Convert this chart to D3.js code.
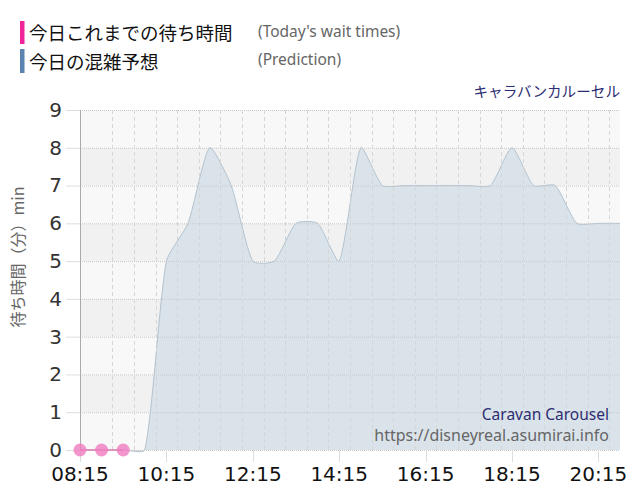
<!DOCTYPE html>
<html>
<head>
<meta charset="utf-8">
<script src="https://cdn.jsdelivr.net/npm/d3@7"></script>
<style>
  body { margin: 0; background: #fff; }
  svg { display: block; }
</style>
</head>
<body>
<svg id="chart" width="640" height="500"></svg>
<script>
// ── Data ──
const predTimes  = ["08:15","08:45","09:15","09:45","10:15","10:45","11:15","11:45","12:15","12:45",
                    "13:15","13:45","14:15","14:45","15:15","15:45","16:15","16:45","17:15","17:45",
                    "18:15","18:45","19:15","19:45","20:15","20:45"];
const predValues = [0,0,0,0,5,6,8,7,5,5, 6,6,5,8,7,7,7,7,7,7, 8,7,7,6,6,6];

const actualTimes  = ["08:15","08:45","09:15"];
const actualValues = [0,0,0];

const xTickLabels = ["08:15","10:15","12:15","14:15","16:15","18:15","20:15"];
const yTicks = [0,1,2,3,4,5,6,7,8,9];

const parse = d3.timeParse("%H:%M");
const jpFont = "'Noto Sans CJK JP', sans-serif";
const enFont = "'Noto Sans', sans-serif";
const numFont = "'DejaVu Sans', Verdana, sans-serif";

// ── Tension spline (Chart.js-style control points) ──
function tensionCurve(t) {
  function Curve(context) { this._context = context; }
  Curve.prototype = {
    areaStart() { this._line = 0; },
    areaEnd() { this._line = NaN; },
    lineStart() { this._pts = []; },
    point(x, y) { this._pts.push([+x, +y]); },
    lineEnd() {
      const p = this._pts, n = p.length, c = this._context;
      if (n) {
        const cps = p.map((cur, i) => {
          const prev = p[i - 1] || cur, next = p[i + 1] || cur;
          const d01 = Math.hypot(cur[0] - prev[0], cur[1] - prev[1]);
          const d12 = Math.hypot(next[0] - cur[0], next[1] - cur[1]);
          let s01 = d01 / (d01 + d12), s12 = d12 / (d01 + d12);
          if (isNaN(s01)) s01 = 0;
          if (isNaN(s12)) s12 = 0;
          const fa = t * s01, fb = t * s12;
          return {
            a: [cur[0] - fa * (next[0] - prev[0]), cur[1] - fa * (next[1] - prev[1])],
            b: [cur[0] + fb * (next[0] - prev[0]), cur[1] + fb * (next[1] - prev[1])]
          };
        });
        if (this._line) c.lineTo(p[0][0], p[0][1]); else c.moveTo(p[0][0], p[0][1]);
        for (let i = 1; i < n; i++) {
          c.bezierCurveTo(cps[i - 1].b[0], cps[i - 1].b[1], cps[i].a[0], cps[i].a[1], p[i][0], p[i][1]);
        }
      }
      if (this._line) c.closePath();
      this._line = 1 - this._line;
    }
  };
  return context => new Curve(context);
}

const svg = d3.select("#chart");
const m = { left: 80, right: 620, top: 110, bottom: 450 };

const x = d3.scaleTime().domain([parse("08:15"), parse("20:45")]).range([m.left, m.right]);
const y = d3.scaleLinear().domain([0, 9]).range([m.bottom, m.top]);

// ── Background bands ──
svg.append("g").selectAll("rect")
  .data(d3.range(0, 9))
  .join("rect")
  .attr("x", m.left).attr("width", m.right - m.left)
  .attr("y", d => y(d + 1)).attr("height", d => y(d) - y(d + 1))
  .attr("fill", d => d % 2 === 0 ? "#f8f8f8" : "#f1f1f1");

// ── Prediction area ──
const pred = predTimes.map((t, i) => ({ t: parse(t), v: predValues[i] }));
const curve = tensionCurve(0.2);
const area = d3.area().curve(curve)
  .x(d => x(d.t)).y0(y(0)).y1(d => y(d.v));
const line = d3.line().curve(curve)
  .x(d => x(d.t)).y(d => y(d.v));

svg.append("path").datum(pred).attr("d", area).attr("fill", "#dae3ea");
svg.append("path").datum(pred).attr("d", line)
  .attr("fill", "none").attr("stroke", "#b3c3cf").attr("stroke-width", 1);

// ── Grid ──
const grid = svg.append("g");
grid.selectAll("line.h").data(yTicks).join("line")
  .attr("x1", m.left).attr("x2", m.right)
  .attr("y1", d => y(d) + 0.5).attr("y2", d => y(d) + 0.5)
  .attr("stroke", "#c8c8c8").attr("stroke-dasharray", "1,1");

const labeled = new Set(xTickLabels);
const fmt = d3.timeFormat("%H:%M");
const halfHours = d3.timeMinute.every(30).range(parse("08:45"), parse("20:46"));
grid.selectAll("line.v").data(halfHours).join("line")
  .attr("x1", d => Math.round(x(d)) + 0.5).attr("x2", d => Math.round(x(d)) + 0.5)
  .attr("y1", m.top).attr("y2", m.bottom)
  .attr("stroke", d => labeled.has(fmt(d)) ? "#c8c8c8" : "#d6d6d6")
  .attr("stroke-dasharray", d => labeled.has(fmt(d)) ? "1,1" : "4,3");

// x tick marks below the axis
grid.selectAll("line.xt").data(xTickLabels.map(parse)).join("line")
  .attr("x1", d => Math.round(x(d)) + 0.5).attr("x2", d => Math.round(x(d)) + 0.5)
  .attr("y1", m.bottom).attr("y2", m.bottom + 12)
  .attr("stroke", "#ddd");

// ── Y axis ──
const yAxis = svg.append("g")
  .attr("transform", `translate(${m.left},0)`)
  .call(d3.axisLeft(y).tickValues(yTicks).tickSize(14).tickPadding(4));
yAxis.select(".domain").attr("stroke", "#aaa").attr("d", `M0.5,${m.top}V${m.bottom}`);
yAxis.selectAll(".tick line").attr("stroke", "#ddd");
yAxis.selectAll(".tick text").attr("fill", "#333").attr("font-size", 20)
  .attr("font-family", numFont);

svg.append("text")
  .attr("transform", `translate(24,257) rotate(-90)`)
  .attr("text-anchor", "middle")
  .attr("font-family", jpFont).attr("font-size", 16).attr("fill", "#666")
  .text("待ち時間（分）min");

// ── X axis labels ──
svg.append("g").selectAll("text")
  .data(xTickLabels)
  .join("text")
  .attr("x", d => x(parse(d)))
  .attr("y", 481)
  .attr("text-anchor", "middle")
  .attr("font-family", numFont).attr("font-size", 20).attr("fill", "#111")
  .text(d => d);

// ── Actual wait times ──
const actual = actualTimes.map((t, i) => ({ t: parse(t), v: actualValues[i] }));
svg.append("path").datum(actual)
  .attr("d", d3.line().x(d => x(d.t)).y(d => y(d.v)))
  .attr("fill", "none").attr("stroke", "#e0559f").attr("stroke-width", 1);
svg.append("g").selectAll("circle").data(actual).join("circle")
  .attr("cx", d => x(d.t)).attr("cy", d => y(d.v)).attr("r", 6.5)
  .attr("fill", "#f07cc0").attr("fill-opacity", 0.8);

// ── Legend ──
svg.append("rect").attr("x", 20).attr("y", 21).attr("width", 4.5).attr("height", 23).attr("fill", "#f0249a");
svg.append("rect").attr("x", 20).attr("y", 49).attr("width", 4.5).attr("height", 24).attr("fill", "#5b84b1");
svg.append("text").attr("x", 29).attr("y", 40)
  .attr("font-family", jpFont).attr("font-size", 18.5).attr("fill", "#111")
  .text("今日これまでの待ち時間");
svg.append("text").attr("x", 29).attr("y", 68.5)
  .attr("font-family", jpFont).attr("font-size", 18.5).attr("fill", "#111")
  .text("今日の混雑予想");
svg.append("text").attr("x", 258).attr("y", 37)
  .attr("font-family", enFont).attr("font-size", 15.5).attr("fill", "#666")
  .text("(Today's wait times)");
svg.append("text").attr("x", 258).attr("y", 65)
  .attr("font-family", enFont).attr("font-size", 15.5).attr("fill", "#666")
  .text("(Prediction)");

// ── Titles / credits ──
svg.append("text").attr("x", 620).attr("y", 97).attr("text-anchor", "end")
  .attr("font-family", jpFont).attr("font-size", 14.6).attr("fill", "#2d2d72")
  .text("キャラバンカルーセル");
svg.append("text").attr("x", 609).attr("y", 420).attr("text-anchor", "end")
  .attr("font-family", enFont).attr("font-size", 15.5).attr("fill", "#2d2d72")
  .text("Caravan Carousel");
svg.append("text").attr("x", 609).attr("y", 441).attr("text-anchor", "end")
  .attr("font-family", enFont).attr("font-size", 16).attr("fill", "#666")
  .text("https://disneyreal.asumirai.info");
</script>
</body>
</html>
